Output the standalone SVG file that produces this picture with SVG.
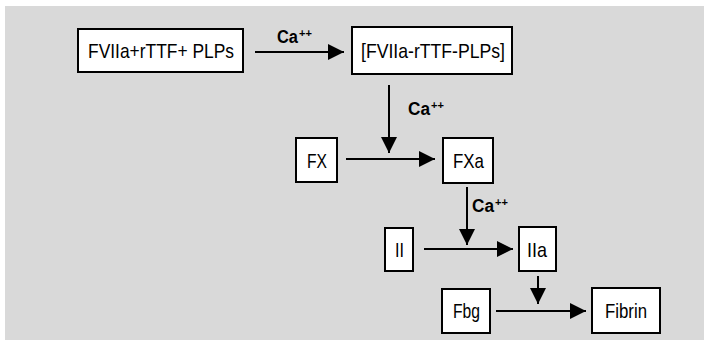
<svg xmlns="http://www.w3.org/2000/svg" width="704" height="340" viewBox="0 0 704 340">
<style>
.box{fill:#ffffff;stroke:#000000;stroke-width:2}
.t{font-family:"Liberation Sans Narrow","Arial Narrow","Liberation Sans",Arial,sans-serif;font-size:21px;fill:#000}
.ca{font-family:"Liberation Sans Narrow","Arial Narrow","Liberation Sans",Arial,sans-serif;font-size:18px;font-weight:bold;fill:#000}
.sup{font-size:11px}
.c{stroke:#000;stroke-width:2;fill:none;marker-end:url(#ah)}
</style>
<defs>
<marker id="ah" markerUnits="userSpaceOnUse" markerWidth="16" markerHeight="16" refX="15" refY="7.5" orient="auto" viewBox="0 0 15 15">
<path d="M0,0 L15,7.5 L0,15 Z" fill="#000"/>
</marker>
</defs>
<rect x="5" y="6" width="699" height="334" fill="#d9d9d9"/>
<g id="connectors">
<line class="c" x1="255" y1="52" x2="344" y2="52"/>
<line class="c" x1="389" y1="85" x2="389" y2="153"/>
<line class="c" x1="346" y1="159" x2="435" y2="159"/>
<line class="c" x1="467" y1="187" x2="467" y2="245"/>
<line class="c" x1="424" y1="249" x2="513" y2="249"/>
<line class="c" x1="538" y1="276" x2="538" y2="304"/>
<line class="c" x1="496" y1="311" x2="586" y2="311"/>
<text class="ca" x="277" y="43"><tspan textLength="21" lengthAdjust="spacingAndGlyphs">Ca</tspan><tspan class="sup" dx="1" dy="-6">++</tspan></text>
<text class="ca" x="408" y="115"><tspan textLength="22" lengthAdjust="spacingAndGlyphs">Ca</tspan><tspan class="sup" dx="1" dy="-6">++</tspan></text>
<text class="ca" x="472" y="212"><tspan textLength="22" lengthAdjust="spacingAndGlyphs">Ca</tspan><tspan class="sup" dx="1" dy="-6">++</tspan></text>
</g>
<g id="n1"><rect class="box" x="78" y="29" width="165" height="43"/><text class="t" x="88" y="58" textLength="146" lengthAdjust="spacingAndGlyphs">FVIIa+rTTF+ PLPs</text></g>
<g id="n2"><rect class="box" x="352" y="27" width="160" height="47"/><text class="t" x="361" y="58" textLength="144" lengthAdjust="spacingAndGlyphs">[FVIIa-rTTF-PLPs]</text></g>
<g id="n3"><rect class="box" x="296" y="138" width="41" height="44"/><text class="t" x="307" y="168" textLength="20" lengthAdjust="spacingAndGlyphs">FX</text></g>
<g id="n4"><rect class="box" x="443" y="138" width="50" height="45"/><text class="t" x="453" y="168" textLength="31" lengthAdjust="spacingAndGlyphs">FXa</text></g>
<g id="n5"><rect class="box" x="385" y="228" width="28" height="43"/><text class="t" x="395" y="257" textLength="9" lengthAdjust="spacingAndGlyphs">II</text></g>
<g id="n6"><rect class="box" x="519" y="227" width="37" height="44"/><text class="t" x="527" y="257" textLength="20" lengthAdjust="spacingAndGlyphs">IIa</text></g>
<g id="n7"><rect class="box" x="442" y="289" width="48" height="44"/><text class="t" x="453" y="318" textLength="27" lengthAdjust="spacingAndGlyphs">Fbg</text></g>
<g id="n8"><rect class="box" x="592" y="288" width="68" height="45"/><text class="t" x="605" y="318" textLength="42" lengthAdjust="spacingAndGlyphs">Fibrin</text></g>
</svg>
